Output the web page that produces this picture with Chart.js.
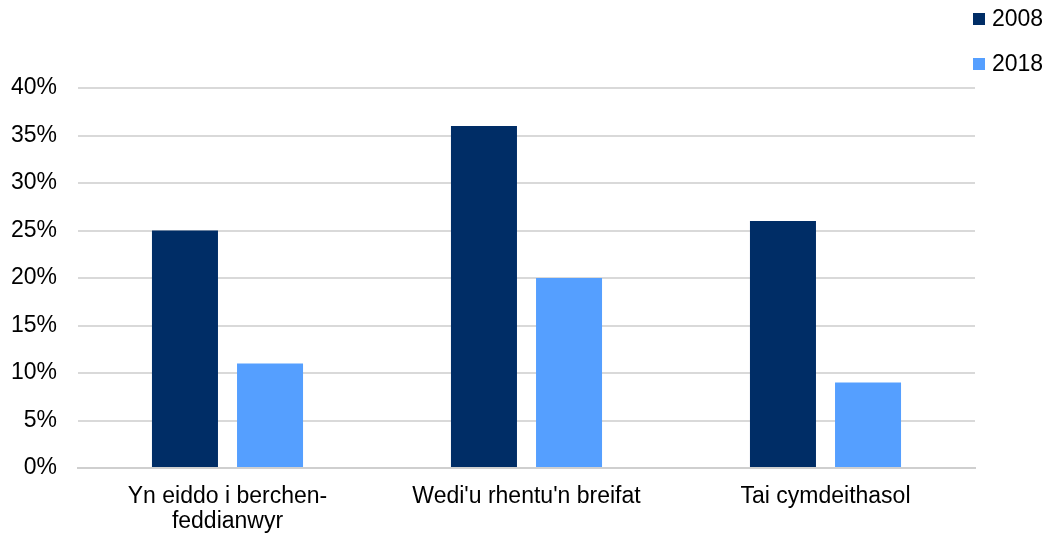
<!DOCTYPE html>
<html>
<head>
<meta charset="utf-8">
<script src="https://cdn.jsdelivr.net/npm/chart.js@4"></script>
<style>
html,body{margin:0;padding:0;background:#fff;}
#wrap{position:relative;width:1048px;height:537px;}
canvas{position:absolute;left:0;top:0;}
.leg{position:absolute;left:973px;font-family:"Liberation Sans",Arial,sans-serif;font-size:23px;color:#000;line-height:23px;white-space:nowrap;}
.leg span.b{display:inline-block;width:12px;height:12px;margin-right:7px;vertical-align:1px;}
</style>
</head>
<body>
<div id="wrap">
<canvas id="c" width="1048" height="537"></canvas>
<div class="leg" style="top:7px"><span class="b" style="background:#002D66"></span>2008</div>
<div class="leg" style="top:52px"><span class="b" style="background:#559FFF"></span>2018</div>
</div>
<script>
const categories = [["Yn eiddo i berchen-", "feddianwyr"], "Wedi'u rhentu'n breifat", "Tai cymdeithasol"];
const seriesNames = ["2008", "2018"];
const values2008 = [25, 36, 26];
const values2018 = [11, 20, 9];
const yTicks = [0, 5, 10, 15, 20, 25, 30, 35, 40];

const font = {family: "'Liberation Sans', Arial, sans-serif", size: 23};
new Chart(document.getElementById('c'), {
  type: 'bar',
  data: {
    labels: categories,
    datasets: [
      {label: seriesNames[0], data: values2008, backgroundColor: '#002D66', borderWidth: 0},
      {label: seriesNames[1], data: values2018, backgroundColor: '#559FFF', borderWidth: 0}
    ]
  },
  options: {
    responsive: false,
    animation: false,
    devicePixelRatio: 1,
    categoryPercentage: 0.569,
    barPercentage: 0.776,
    layout: {padding: {left: 0, right: 73, top: 88, bottom: 0}},
    plugins: {legend: {display: false}, tooltip: {enabled: false}},
    scales: {
      x: {
        grid: {display: false, drawTicks: false},
        border: {display: true, color: '#cfcfcf', width: 2},
        ticks: {color: '#000', font: {...font, lineHeight: 1.087}, padding: 16, maxRotation: 0, autoSkip: false},
        afterFit: s => { s.height = 69; }
      },
      y: {
        min: 0, max: 40,
        afterBuildTicks: s => { s.ticks = yTicks.map(v => ({value: v})); },
        grid: {color: '#d9d9d9', lineWidth: 2, drawTicks: false},
        border: {display: false},
        ticks: {color: '#000', font: font, padding: 21, callback: v => v + '%'},
        afterFit: s => { s.width = 78; }
      }
    }
  }
});
</script>
</body>
</html>
